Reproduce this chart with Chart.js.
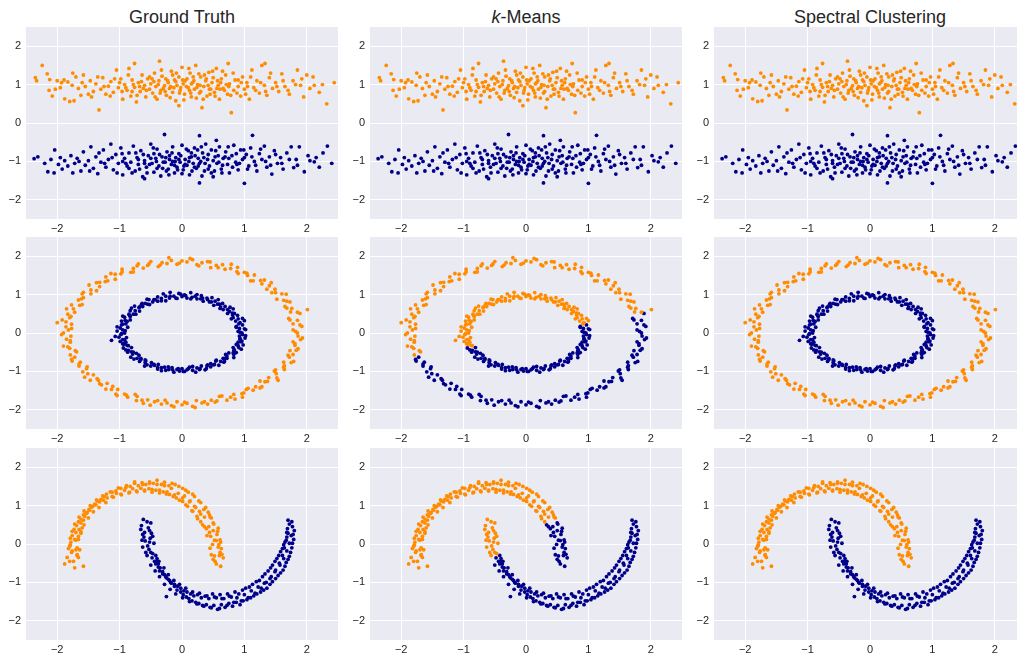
<!DOCTYPE html>
<html>
<head>
<meta charset="utf-8">
<script src="https://cdn.jsdelivr.net/npm/chart.js@4.4.1/dist/chart.umd.min.js"></script>
<style>
  html, body { margin: 0; padding: 0; background: #fff; }
  body { width: 1017px; height: 657px; overflow: hidden; position: relative; font-family: "Liberation Sans", Arial, sans-serif; }
  canvas { position: absolute; }
  .title { position: absolute; top: 8px; width: 312px; text-align: center; font-size: 18px; line-height: 18px; color: #262626; white-space: nowrap; }
</style>
</head>
<body>
<div class="title" style="left:26px">Ground Truth</div>
<div class="title" style="left:370px"><i>k</i>-Means</div>
<div class="title" style="left:714px">Spectral Clustering</div>
<canvas id="c00" width="338" height="214" style="left:0px;top:27px"></canvas>
<canvas id="c01" width="338" height="214" style="left:344px;top:27px"></canvas>
<canvas id="c02" width="338" height="214" style="left:688px;top:27px"></canvas>
<canvas id="c10" width="338" height="214" style="left:0px;top:237px"></canvas>
<canvas id="c11" width="338" height="214" style="left:344px;top:237px"></canvas>
<canvas id="c12" width="338" height="214" style="left:688px;top:237px"></canvas>
<canvas id="c20" width="338" height="214" style="left:0px;top:448px"></canvas>
<canvas id="c21" width="338" height="214" style="left:344px;top:448px"></canvas>
<canvas id="c22" width="338" height="214" style="left:688px;top:448px"></canvas>
<script>
// Tick values shared by every panel
const TICKS = [-2, -1, 0, 1, 2];
const ORANGE = '#ff8c00';
const BLUE = '#00008b';

// Row 1: two elongated blobs
const blobsOrange = [[-2.35,1.18],[-2.33,1.1],[-2.24,1.5],[-2.16,1.28],[-2.12,1.13],[-2.13,0.85],[-2.08,0.7],[-2.03,0.88],[-1.93,1.05],[-1.89,1.12],[-1.88,0.63],[-1.83,1.07],[-1.8,0.56],[-1.76,0.98],[-1.73,0.58],[-1.7,1.2],[-1.66,0.9],[-1.62,0.72],[-1.58,1.25],[-1.55,0.95],[-1.5,0.75],[-1.47,1.1],[-1.42,0.82],[-1.38,1.02],[-1.33,0.34],[-1.3,0.88],[-1.27,1.18],[-1.22,0.75],[-1.18,0.96],[-1.14,1.08],[-1.1,0.8],[-1.05,1.38],[-1.02,0.92],[-0.98,1.15],[-0.95,0.62],[-0.92,1.0],[-0.88,0.85],[-0.85,1.42],[-0.82,0.7],[-0.8,1.12],[-0.76,0.93],[-0.76,1.55],[-0.73,0.55],[-0.7,1.05],[-0.67,0.82],[-0.64,1.25],[-0.6,0.98],[-0.58,0.68],[-0.55,1.15],[-0.52,0.88],[-0.5,1.02],[-0.47,0.78],[-0.44,1.3],[-0.42,0.95],[-0.4,0.62],[-0.37,1.1],[-0.36,1.61],[-0.34,0.85],[-0.32,1.22],[-0.28,0.97],[-0.25,0.72],[-0.22,1.05],[-0.2,0.9],[-0.17,1.35],[-0.15,0.8],[-0.12,1.12],[-0.1,0.58],[-0.08,0.98],[-0.05,1.2],[-0.05,0.45],[-0.03,0.85],[0.0,1.45],[0.02,1.02],[0.04,0.75],[0.08,1.15],[0.1,0.92],[0.13,1.3],[0.15,0.68],[0.17,1.05],[0.2,0.88],[0.22,1.5],[0.25,1.0],[0.28,0.78],[0.3,1.2],[0.32,0.4],[0.35,0.95],[0.38,1.1],[0.4,0.7],[0.43,1.32],[0.46,0.88],[0.48,1.05],[0.52,0.8],[0.55,1.42],[0.58,0.98],[0.6,0.62],[0.63,1.15],[0.66,0.9],[0.7,1.25],[0.73,0.75],[0.74,1.55],[0.76,1.02],[0.79,0.27],[0.83,0.85],[0.85,1.12],[0.9,0.95],[0.94,0.7],[0.97,1.2],[1.0,0.88],[1.04,1.05],[1.08,0.62],[1.12,1.38],[1.15,0.92],[1.2,1.1],[1.24,0.78],[1.28,1.5],[1.32,0.98],[1.33,1.55],[1.36,0.72],[1.4,1.18],[1.45,0.9],[1.5,1.05],[1.55,0.82],[1.6,1.28],[1.65,0.95],[1.72,0.75],[1.78,1.1],[1.85,1.38],[1.9,0.98],[1.95,0.68],[2.0,1.25],[2.05,0.9],[2.12,0.98],[2.25,1.0],[2.32,0.5],[2.44,1.05],[-0.62,0.9],[-0.45,1.08],[-0.35,0.78],[-0.26,1.15],[-0.18,0.95],[-0.1,1.08],[-0.02,0.92],[0.05,1.1],[0.12,0.85],[0.18,1.2],[0.24,0.93],[0.3,0.82],[0.36,1.25],[0.42,0.98],[0.5,1.18],[0.56,0.9],[0.62,1.05],[0.68,0.85],[-0.52,1.2],[-0.68,0.95],[-0.8,0.82],[0.9,1.12],[1.05,0.95],[-1.0,1.05],[0.15,1.02],[-0.3,0.9],[0.45,0.75],[-0.15,1.25],[0.75,0.95],[-0.9,0.92],
  [-1.95,0.92],[-1.6,1.05],[-1.45,0.68],[-1.35,1.2],[-1.25,0.95],[-1.15,0.7],[-1.08,1.15],[-0.96,0.82],[-0.86,1.25],[-0.78,1.0],[-0.72,0.72],[-0.65,1.08],[-0.57,0.85],[-0.48,1.15],[-0.43,0.68],[-0.38,1.0],[-0.33,1.38],[-0.27,0.82],[-0.23,1.1],[-0.19,0.66],[-0.13,0.92],[-0.09,1.3],[-0.04,0.78],[0.01,1.12],[0.03,0.6],[0.07,0.95],[0.11,1.42],[0.14,0.78],[0.19,1.1],[0.23,0.65],[0.27,1.28],[0.29,0.98],[0.34,0.62],[0.39,1.15],[0.44,0.88],[0.49,1.35],[0.53,0.7],[0.57,1.1],[0.61,0.88],[0.65,1.35],[0.71,1.0],[0.78,0.72],[0.82,1.3],[0.88,0.78],[0.95,1.05],[1.02,0.75],[1.1,1.2],[1.18,0.85],[1.26,1.05],[1.34,0.82],[1.42,1.3],[1.52,0.95],[1.62,1.1],[1.7,0.85],[1.82,1.0],[1.92,1.15],[2.1,1.2],[-1.75,1.3],[-2.0,1.1],[2.2,0.8]];
const blobsBlue = [[-2.37,-0.93],[-2.31,-0.88],[-2.15,-1.27],[-2.05,-1.3],[-2.04,-0.7],[-2.1,-0.95],[-1.98,-1.08],[-1.92,-1.2],[-1.88,-0.98],[-1.83,-1.12],[-1.78,-0.85],[-1.72,-1.05],[-1.68,-0.92],[-1.62,-1.25],[-1.58,-0.75],[-1.55,-1.1],[-1.5,-0.98],[-1.46,-0.62],[-1.42,-1.18],[-1.38,-0.88],[-1.35,-1.32],[-1.3,-1.02],[-1.26,-0.7],[-1.22,-1.15],[-1.18,-0.95],[-1.14,-0.55],[-1.1,-1.22],[-1.06,-0.82],[-1.02,-1.05],[-0.98,-0.65],[-0.95,-1.35],[-0.92,-0.92],[-0.88,-1.12],[-0.85,-0.78],[-0.82,-1.02],[-0.78,-0.6],[-0.75,-1.25],[-0.72,-0.9],[-0.7,-1.08],[-0.66,-0.72],[-0.63,-1.4],[-0.6,-0.98],[-0.57,-1.15],[-0.54,-0.85],[-0.5,-0.55],[-0.48,-1.05],[-0.45,-1.28],[-0.42,-0.92],[-0.4,-0.68],[-0.37,-1.12],[-0.34,-1.38],[-0.32,-0.88],[-0.28,-0.3],[-0.27,-1.02],[-0.24,-0.75],[-0.22,-1.2],[-0.2,-0.95],[-0.17,-1.08],[-0.15,-0.62],[-0.12,-1.3],[-0.1,-0.9],[-0.08,-1.15],[-0.05,-0.8],[-0.03,-1.02],[0.0,-0.58],[0.02,-1.22],[0.05,-0.95],[0.08,-1.1],[0.1,-0.72],[0.12,-1.35],[0.15,-0.88],[0.18,-1.05],[0.2,-0.65],[0.23,-1.18],[0.26,-0.92],[0.28,-0.33],[0.28,-1.56],[0.3,-1.0],[0.33,-0.78],[0.36,-1.25],[0.38,-0.55],[0.41,-0.95],[0.44,-1.12],[0.47,-0.7],[0.5,-1.4],[0.53,-0.88],[0.56,-1.05],[0.6,-0.62],[0.63,-1.2],[0.66,-0.92],[0.7,-0.75],[0.73,-1.08],[0.76,-1.3],[0.8,-0.85],[0.83,-0.58],[0.86,-1.02],[0.9,-1.22],[0.94,-0.7],[0.97,-0.95],[1.0,-1.57],[1.03,-0.82],[1.07,-1.12],[1.1,-0.65],[1.13,-0.32],[1.16,-1.0],[1.2,-1.25],[1.24,-0.8],[1.28,-0.95],[1.32,-0.6],[1.36,-1.15],[1.4,-0.88],[1.44,-1.33],[1.48,-0.72],[1.53,-1.05],[1.58,-0.9],[1.62,-1.2],[1.68,-0.78],[1.75,-0.62],[1.79,-1.16],[1.83,-0.95],[1.88,-0.62],[1.96,-1.27],[2.02,-0.85],[2.12,-1.01],[2.15,-0.9],[2.26,-0.78],[2.33,-0.6],[2.4,-1.05],[-0.6,-1.05],[-0.5,-0.92],[-0.4,-1.18],[-0.3,-1.02],[-0.2,-0.85],[-0.12,-1.1],[-0.05,-0.95],[0.05,-1.08],[0.12,-0.9],[0.2,-1.15],[0.28,-1.05],[0.35,-0.9],[0.42,-1.2],[0.5,-0.98],[0.58,-0.85],[0.65,-1.1],[-0.7,-0.95],[-0.85,-1.18],[0.75,-0.92],[0.88,-1.08],[-0.25,-1.25],[0.0,-1.32],[0.32,-1.38],[-0.45,-0.8],[0.15,-0.78],[-0.95,-1.0],[1.0,-0.9],[0.52,-1.25],[-0.15,-1.0],[0.25,-0.7],
  [-1.95,-0.9],[-1.65,-1.0],[-1.48,-1.25],[-1.33,-0.78],[-1.24,-1.05],[-1.12,-0.9],[-1.04,-1.3],[-0.96,-0.8],[-0.9,-1.05],[-0.8,-1.3],[-0.74,-0.78],[-0.68,-1.2],[-0.62,-0.82],[-0.56,-1.3],[-0.52,-1.08],[-0.46,-0.65],[-0.41,-1.0],[-0.36,-0.82],[-0.31,-1.18],[-0.26,-0.9],[-0.21,-1.35],[-0.16,-0.78],[-0.11,-1.0],[-0.07,-1.22],[-0.02,-0.85],[0.03,-1.12],[0.07,-0.68],[0.11,-1.0],[0.16,-1.25],[0.21,-0.85],[0.26,-1.12],[0.31,-0.62],[0.37,-1.05],[0.42,-0.82],[0.47,-1.3],[0.54,-0.72],[0.59,-1.02],[0.64,-1.3],[0.69,-0.88],[0.74,-0.62],[0.81,-1.15],[0.87,-0.8],[0.92,-1.05],[0.99,-0.7],[1.05,-1.2],[1.12,-0.88],[1.18,-1.1],[1.26,-0.68],[1.34,-1.0],[1.42,-1.1],[1.5,-0.82],[1.6,-1.05],[1.72,-0.95],[1.85,-1.1],[2.05,-0.98],[2.2,-1.15],[-1.75,-1.3],[-2.2,-1.05],[0.55,-0.45],[-0.6,-1.45]];

// Row 2: concentric circles, each ring split where k-means cuts it
const outerUpper = [[1.74,0.55],[1.76,0.64],[1.65,0.69],[1.73,0.81],[1.63,0.85],[1.52,0.88],[1.6,1.02],[1.5,1.05],[1.49,1.14],[1.36,1.14],[1.43,1.31],[1.28,1.28],[1.26,1.37],[1.14,1.36],[1.16,1.51],[1.05,1.5],[1.0,1.58],[0.9,1.55],[0.89,1.71],[0.78,1.68],[0.69,1.66],[0.65,1.78],[0.55,1.76],[0.46,1.7],[0.41,1.86],[0.32,1.83],[0.24,1.78],[0.17,1.91],[0.08,1.85],[0,1.88],[-0.08,1.79],[-0.17,1.89],[-0.24,1.81],[-0.32,1.83],[-0.38,1.73],[-0.5,1.86],[-0.55,1.76],[-0.62,1.69],[-0.72,1.75],[-0.78,1.68],[-0.82,1.58],[-0.96,1.66],[-0.98,1.54],[-1.07,1.53],[-1.07,1.4],[-1.22,1.46],[-1.23,1.34],[-1.32,1.32],[-1.32,1.21],[-1.49,1.25],[-1.46,1.12],[-1.46,1.02],[-1.6,1.02],[-1.58,0.92],[-1.66,0.86],[-1.6,0.74],[-1.77,0.73],[-1.74,0.63],[-1.72,0.54],[-1.83,0.49],[-1.8,0.4],[-1.92,0.34],[-1.77,0.23],[-1.86,0.16],[-1.82,0.08],[-1.9,0],[-1.78,-0.08],[-1.85,-0.16],[-1.79,-0.24],[-1.9,-0.34],[-1.8,-0.4],[-1.71,-0.46],[-1.79,-0.57],[2.01,0.61],[-2.0,0.27],
  [1.85,0.54],[1.68,0.65],[1.68,0.83],[1.67,1.01],[1.44,1.05],[1.4,1.23],[1.32,1.38],[1.1,1.36],[1.04,1.56],[0.88,1.6],[0.79,1.79],[0.58,1.7],[0.45,1.85],[0.27,1.75],[0.13,1.94],[-0.04,1.82],[-0.21,1.96],[-0.35,1.77],[-0.53,1.8],[-0.7,1.8],[-0.78,1.59],[-0.96,1.59],[-1.14,1.55],[-1.19,1.36],[-1.37,1.31],[-1.37,1.1],[-1.58,1.06],[-1.61,0.89],[-1.64,0.72],[-1.85,0.63],[-1.78,0.43],[-1.86,0.29],[-1.77,0.12],[-1.93,-0.04],[-1.79,-0.2],[-1.83,-0.36],[-1.69,-0.49]];
const outerLower = [[-1.72,-0.63],[-1.76,-0.73],[-1.63,-0.76],[-1.65,-0.86],[-1.52,-0.88],[-1.59,-1.01],[-1.51,-1.06],[-1.42,-1.09],[-1.47,-1.23],[-1.34,-1.23],[-1.32,-1.32],[-1.2,-1.31],[-1.22,-1.46],[-1.13,-1.47],[-1.03,-1.47],[-1.04,-1.63],[-0.92,-1.59],[-0.87,-1.67],[-0.75,-1.6],[-0.73,-1.76],[-0.64,-1.75],[-0.55,-1.74],[-0.51,-1.88],[-0.39,-1.76],[-0.33,-1.85],[-0.24,-1.82],[-0.17,-1.89],[-0.08,-1.79],[0,-1.87],[0.08,-1.83],[0.17,-1.91],[0.23,-1.76],[0.32,-1.82],[0.41,-1.85],[0.47,-1.75],[0.56,-1.77],[0.6,-1.65],[0.72,-1.75],[0.78,-1.67],[0.83,-1.6],[0.97,-1.67],[0.99,-1.56],[1.03,-1.47],[1.14,-1.49],[1.18,-1.4],[1.28,-1.4],[1.25,-1.25],[1.37,-1.26],[1.39,-1.16],[1.52,-1.17],[1.51,-1.06],[1.5,-0.96],[1.64,-0.95],[1.64,-0.85],[1.63,-0.76],[1.79,-0.74],[1.72,-0.63],[1.78,-0.56],[1.73,-0.46],[1.86,-0.41],[1.81,-0.32],[1.78,-0.23],[1.9,-0.17],[1.86,-0.08],[1.85,0],[1.78,0.08],[1.92,0.17],[1.78,0.24],[1.85,0.33],[1.71,0.38],[1.89,0.51],
  [1.82,0.04],[1.89,0.21],[1.73,0.34],[-1.77,-0.69],[-1.65,-0.81],[-1.53,-0.93],[-1.56,-1.15],[-1.36,-1.19],[-1.29,-1.35],[-1.11,-1.39],[-1.06,-1.59],[-0.89,-1.62],[-0.72,-1.65],[-0.62,-1.83],[-0.44,-1.79],[-0.27,-1.75],[-0.13,-1.92],[0.04,-1.8],[0.21,-1.94],[0.36,-1.79],[0.53,-1.8],[0.64,-1.64],[0.85,-1.72],[0.96,-1.58],[1.06,-1.44],[1.25,-1.43],[1.33,-1.27],[1.54,-1.23],[1.48,-0.99],[1.63,-0.89],[1.75,-0.77],[1.7,-0.58],[1.83,-0.45],[1.81,-0.28],[1.93,-0.13]];
const innerUpper = [[0.91,0.24],[1.0,0.32],[0.86,0.31],[0.9,0.37],[0.79,0.37],[0.89,0.46],[0.81,0.47],[0.81,0.52],[0.73,0.51],[0.82,0.63],[0.73,0.61],[0.66,0.61],[0.69,0.69],[0.62,0.68],[0.65,0.77],[0.57,0.75],[0.51,0.72],[0.53,0.83],[0.47,0.81],[0.48,0.92],[0.41,0.87],[0.34,0.83],[0.33,0.91],[0.31,0.97],[0.24,0.89],[0.21,0.96],[0.16,0.93],[0.14,1.05],[0.08,0.91],[0.04,0.99],[0,0.95],[-0.05,1.03],[-0.08,0.9],[-0.13,0.96],[-0.19,1.06],[-0.2,0.91],[-0.26,0.96],[-0.26,0.84],[-0.33,0.9],[-0.39,0.94],[-0.39,0.83],[-0.45,0.87],[-0.47,0.81],[-0.56,0.88],[-0.52,0.74],[-0.59,0.77],[-0.64,0.77],[-0.63,0.69],[-0.68,0.68],[-0.76,0.7],[-0.68,0.57],[-0.75,0.58],[-0.83,0.58],[-0.78,0.49],[-0.85,0.49],[-0.83,0.43],[-0.95,0.44],[-0.83,0.34],[-0.91,0.33],[-0.97,0.31],[-0.9,0.24],[-0.97,0.21],[-0.87,0.15],[-0.99,0.13],[-0.95,0.08],[-1.04,0.05],[-0.92,0],[-0.98,-0.04],[-1.07,-0.09],[-0.89,-0.12],[-0.95,-0.17],[-0.99,-0.22],[-0.9,-0.24],[-0.93,-0.29],[-0.88,-0.32],[-1.13,-0.19],
  [0.93,0.27],[0.97,0.38],[0.82,0.4],[0.84,0.51],[0.76,0.56],[0.77,0.67],[0.61,0.64],[0.6,0.75],[0.58,0.87],[0.44,0.81],[0.4,0.91],[0.3,0.89],[0.24,1.0],[0.14,0.89],[0.06,0.97],[-0.02,1.01],[-0.1,0.91],[-0.19,0.96],[-0.3,1.02],[-0.33,0.84],[-0.43,0.87],[-0.53,0.87],[-0.55,0.75],[-0.65,0.74],[-0.69,0.66],[-0.81,0.65],[-0.74,0.49],[-0.84,0.46],[-0.92,0.41],[-0.88,0.3],[-0.95,0.23],[-1.04,0.16],[-0.91,0.06],[-0.97,-0.02],[-1.01,-0.11],[-0.92,-0.18],[-0.95,-0.28],[-0.86,-0.33]];
const innerLower = [[-0.94,-0.39],[-0.81,-0.38],[-0.86,-0.45],[-0.87,-0.5],[-0.78,-0.5],[-0.79,-0.55],[-0.82,-0.63],[-0.69,-0.58],[-0.72,-0.66],[-0.66,-0.66],[-0.68,-0.74],[-0.59,-0.7],[-0.59,-0.77],[-0.6,-0.86],[-0.49,-0.77],[-0.5,-0.86],[-0.44,-0.84],[-0.38,-0.82],[-0.39,-0.94],[-0.33,-0.9],[-0.28,-0.89],[-0.26,-0.97],[-0.21,-0.95],[-0.16,-0.9],[-0.13,-1.02],[-0.08,-0.95],[-0.04,-0.99],[0,-0.93],[0.04,-1.0],[0.08,-0.96],[0.12,-0.89],[0.17,-0.97],[0.22,-1.02],[0.24,-0.91],[0.29,-0.93],[0.31,-0.86],[0.39,-0.93],[0.4,-0.86],[0.46,-0.88],[0.46,-0.8],[0.52,-0.82],[0.59,-0.84],[0.55,-0.71],[0.62,-0.74],[0.68,-0.74],[0.66,-0.66],[0.72,-0.66],[0.72,-0.6],[0.83,-0.64],[0.75,-0.52],[0.82,-0.52],[0.87,-0.51],[0.84,-0.44],[0.82,-0.38],[0.91,-0.38],[0.9,-0.33],[0.98,-0.31],[0.9,-0.24],[0.96,-0.21],[0.93,-0.16],[1.01,-0.13],[0.92,-0.08],[0.97,-0.04],[0.96,0],[0.9,0.04],[1.02,0.09],[0.92,0.12],[0.87,0.15],[0.97,0.21],
  [0.93,0.02],[1.0,0.11],[0.87,0.17],[-0.9,-0.44],[-0.81,-0.49],[-0.73,-0.53],[-0.77,-0.68],[-0.66,-0.69],[-0.58,-0.72],[-0.56,-0.83],[-0.45,-0.82],[-0.39,-0.9],[-0.33,-0.98],[-0.22,-0.88],[-0.15,-0.96],[-0.06,-0.93],[0.02,-1.0],[0.1,-0.93],[0.17,-0.87],[0.28,-0.95],[0.37,-0.96],[0.41,-0.83],[0.5,-0.83],[0.54,-0.73],[0.67,-0.76],[0.69,-0.66],[0.7,-0.56],[0.83,-0.56],[0.83,-0.46],[0.95,-0.42],[0.87,-0.3],[0.95,-0.23],[0.93,-0.14],[1.02,-0.07]];

// Row 3: two moons, each moon split where k-means cuts it
const moonUpperMain = [[0.47,0.68],[0.44,0.76],[0.3,0.58],[0.42,0.83],[0.25,0.66],[0.38,0.95],[0.24,0.72],[0.35,0.9],[0.17,0.85],[0.3,1.08],[0.16,0.87],[0.27,1.12],[0.09,0.98],[0.2,1.24],[0.06,1.02],[0.17,1.3],[0.01,1.11],[0.1,1.35],[-0.04,1.14],[0.06,1.4],[-0.09,1.2],[0.01,1.45],[-0.14,1.24],[-0.05,1.5],[-0.2,1.29],[-0.11,1.55],[-0.25,1.3],[-0.16,1.58],[-0.3,1.36],[-0.21,1.52],[-0.36,1.33],[-0.28,1.61],[-0.42,1.4],[-0.33,1.55],[-0.48,1.35],[-0.4,1.66],[-0.53,1.44],[-0.46,1.58],[-0.6,1.38],[-0.52,1.62],[-0.66,1.45],[-0.58,1.55],[-0.72,1.36],[-0.64,1.6],[-0.79,1.44],[-0.7,1.52],[-0.85,1.33],[-0.76,1.58],[-0.92,1.4],[-0.83,1.5],[-0.97,1.28],[-0.9,1.47],[-1.05,1.32],[-0.98,1.45],[-1.12,1.24],[-1.06,1.38],[-1.2,1.2],[-1.12,1.35],[-1.26,1.14],[-1.21,1.3],[-1.32,1.1],[-1.25,1.24],[-1.38,1.02],[-1.3,1.16],[-1.43,0.98],[-1.36,1.12],[-1.48,0.88],[-1.4,1.04],[-1.52,0.82],[-1.45,0.96],[-1.58,0.76],[-1.49,0.9],[-1.62,0.65],[-1.53,0.8],[-1.66,0.58],[-1.56,0.72],[-1.69,0.48],[-1.58,0.62],[-1.73,0.38],[-1.62,0.55],[-1.7,0.3],[-1.6,0.42],[-1.76,0.22],[-1.65,0.38],[-1.72,0.12],[-1.62,0.28],[-1.78,0.05],[-1.66,0.2],[-1.8,-0.06],[-1.7,0.1],[-1.64,-0.15],[-1.79,-0.02],[-1.68,-0.28],[-1.82,-0.12],[-1.66,-0.35],[-1.76,-0.18],[-1.8,-0.45],[-1.68,-0.3],[-1.72,-0.62],[-1.88,-0.52],[-1.58,-0.58],
  [0.45,0.7],[0.3,0.78],[0.36,0.7],[0.22,0.95],[0.28,0.85],[0.13,1.12],[0.2,0.98],[0.04,1.25],[0.12,1.1],[-0.06,1.32],[0.01,1.2],[-0.17,1.45],[-0.12,1.28],[-0.28,1.52],[-0.24,1.36],[-0.4,1.55],[-0.36,1.4],[-0.52,1.58],[-0.48,1.42],[-0.63,1.55],[-0.6,1.4],[-0.76,1.62],[-0.73,1.38],[-0.89,1.52],[-0.84,1.35],[-1.02,1.46],[-0.98,1.3],[-1.15,1.36],[-1.1,1.22],[-1.27,1.25],[-1.22,1.08],[-1.37,1.15],[-1.33,0.95],[-1.47,1.0],[-1.42,0.84],[-1.57,0.86],[-1.5,0.68],[-1.65,0.7],[-1.57,0.5],[-1.72,0.52],[-1.62,0.32],[-1.76,0.33],[-1.66,0.12],[-1.79,0.15],[-1.68,-0.1],[-1.77,-0.22],[-1.7,-0.15],[-1.84,-0.35],[-1.74,-0.45]];
const moonUpperTip = [[0.62,-0.58],[0.52,-0.31],[0.66,-0.36],[0.55,-0.52],[0.63,-0.12],[0.47,-0.28],[0.59,-0.02],[0.64,-0.27],[0.49,-0.01],[0.61,0.11],[0.45,-0.11],[0.56,0.25],[0.62,0.05],[0.44,0.3],[0.55,0.09],[0.58,0.41],[0.4,0.22],[0.51,0.52],[0.39,0.4],[0.5,0.35],[0.33,0.5],
  [0.53,-0.45],[0.61,-0.22],[0.5,-0.4],[0.6,-0.3],[0.52,0.1],[0.58,-0.08],[0.46,0.2],[0.57,0.33],[0.43,0.45],[0.5,0.55],[0.36,0.45]];
const moonLowerTip = [[-0.62,0.64],[-0.52,0.35],[-0.65,0.48],[-0.5,0.55],[-0.61,0.18],[-0.66,0.38],[-0.52,0.05],[-0.6,0.3],[-0.47,0.2],[-0.63,-0.08],[-0.51,0.15],[-0.58,-0.22],[-0.45,0.02],[-0.55,-0.05],[-0.53,-0.14],[-0.5,-0.22],
  [-0.56,0.58],[-0.63,0.25],[-0.54,0.42],[-0.64,0.1],[-0.49,0.28],[-0.59,0.08],[-0.47,-0.25],[-0.56,-0.3]];
const moonLowerMain = [[-0.42,-0.3],[-0.4,-0.38],[-0.38,-0.52],[-0.48,-0.36],[-0.35,-0.62],[-0.44,-0.45],[-0.31,-0.72],[-0.42,-0.52],[-0.28,-0.8],[-0.38,-0.6],[-0.25,-0.88],[-0.36,-0.7],[-0.2,-0.95],[-0.31,-0.78],[-0.17,-1.02],[-0.26,-0.85],[-0.12,-1.1],[-0.22,-0.92],[-0.08,-1.2],[-0.18,-1.0],[-0.02,-1.25],[-0.12,-1.05],[0.02,-1.32],[-0.07,-1.1],[0.07,-1.38],[-0.02,-1.15],[0.11,-1.42],[0.03,-1.22],[0.16,-1.48],[0.08,-1.25],[0.22,-1.52],[0.14,-1.3],[0.27,-1.55],[0.19,-1.35],[0.33,-1.6],[0.25,-1.32],[0.39,-1.58],[0.31,-1.4],[0.45,-1.65],[0.37,-1.36],[0.51,-1.6],[0.43,-1.42],[0.57,-1.7],[0.49,-1.3],[0.63,-1.58],[0.55,-1.4],[0.69,-1.65],[0.61,-1.32],[0.75,-1.55],[0.67,-1.42],[0.81,-1.62],[0.73,-1.3],[0.87,-1.52],[0.79,-1.38],[0.93,-1.58],[0.85,-1.25],[0.98,-1.48],[0.91,-1.3],[1.04,-1.45],[0.97,-1.2],[1.1,-1.4],[1.02,-1.15],[1.15,-1.35],[1.08,-1.12],[1.2,-1.3],[1.13,-1.05],[1.26,-1.25],[1.19,-0.98],[1.31,-1.2],[1.24,-0.95],[1.36,-1.15],[1.29,-0.85],[1.41,-1.05],[1.33,-0.78],[1.45,-0.98],[1.38,-0.7],[1.5,-0.9],[1.42,-0.62],[1.54,-0.82],[1.45,-0.55],[1.58,-0.75],[1.49,-0.45],[1.62,-0.68],[1.52,-0.38],[1.65,-0.58],[1.55,-0.3],[1.67,-0.48],[1.58,-0.2],[1.7,-0.4],[1.61,-0.12],[1.72,-0.32],[1.63,-0.02],[1.74,-0.22],[1.65,0.05],[1.76,-0.1],[1.68,0.18],[1.77,0.02],[1.7,0.28],[1.79,0.12],[1.69,0.4],[1.78,0.25],[1.72,0.52],[1.8,0.35],[1.7,0.62],[1.76,0.58],[-0.25,-1.37],
  [-0.41,-0.45],[-0.5,-0.55],[-0.37,-0.45],[-0.43,-0.7],[-0.29,-0.62],[-0.36,-0.85],[-0.22,-0.8],[-0.28,-1.05],[-0.13,-0.95],[-0.19,-1.18],[-0.04,-1.05],[-0.1,-1.3],[0.06,-1.15],[0.01,-1.4],[0.17,-1.25],[0.12,-1.5],[0.28,-1.28],[0.24,-1.56],[0.4,-1.35],[0.35,-1.62],[0.52,-1.38],[0.47,-1.66],[0.64,-1.42],[0.6,-1.68],[0.76,-1.36],[0.72,-1.6],[0.88,-1.4],[0.83,-1.52],[1.0,-1.32],[0.95,-1.48],[1.11,-1.22],[1.06,-1.4],[1.22,-1.12],[1.17,-1.28],[1.32,-1.02],[1.27,-1.15],[1.41,-0.9],[1.35,-1.0],[1.49,-0.72],[1.43,-0.85],[1.57,-0.55],[1.5,-0.68],[1.63,-0.38],[1.56,-0.5],[1.68,-0.18],[1.61,-0.3],[1.72,0.02],[1.64,-0.1],[1.75,0.22],[1.67,0.1],[1.77,0.45],[1.68,0.3]];

const toXY = pts => pts.map(p => ({ x: p[0], y: p[1] }));

// Background fill for the plot area (seaborn darkgrid look)
const bgPlugin = {
  id: 'bg',
  beforeDraw(chart) {
    const { ctx, chartArea: a } = chart;
    ctx.save();
    ctx.fillStyle = '#eaeaf2';
    ctx.fillRect(a.left, a.top, a.right - a.left, a.bottom - a.top);
    ctx.restore();
  }
};

const fmt = v => (v < 0 ? '\u2212' + Math.abs(v) : String(v));

const axis = (fit, pad) => ({
  type: 'linear',
  min: -2.5,
  max: 2.5,
  afterBuildTicks: s => { s.ticks = TICKS.map(v => ({ value: v })); },
  afterFit: s => {
    fit(s);
    // ticks never sit on the plot edges, so no label overhang is needed
    s.paddingTop = 0; s.paddingBottom = 0; s.paddingLeft = 0; s.paddingRight = 0;
  },
  grid: { color: '#ffffff', lineWidth: 1, drawTicks: false },
  border: { display: false },
  ticks: {
    autoSkip: false,
    padding: pad,
    color: '#262626',
    font: { family: '"Liberation Sans", Arial, sans-serif', size: 11 },
    callback: fmt
  }
});

const makePanel = (id, orangePts, bluePts) => {
  new Chart(document.getElementById(id), {
    type: 'scatter',
    data: {
      datasets: [
        { data: toXY(orangePts), backgroundColor: ORANGE, borderWidth: 0, pointRadius: 1.9 },
        { data: toXY(bluePts), backgroundColor: BLUE, borderWidth: 0, pointRadius: 1.9 }
      ]
    },
    options: {
      responsive: false,
      animation: false,
      devicePixelRatio: 1,
      events: [],
      layout: { padding: 0, autoPadding: false },
      plugins: { legend: { display: false }, tooltip: { enabled: false } },
      scales: {
        x: axis(s => { s.height = 22; }, 3),
        y: axis(s => { s.width = 26; }, 5)
      }
    },
    plugins: [bgPlugin]
  });
};

// Ground truth / k-means / spectral clustering
makePanel('c00', blobsOrange, blobsBlue);
makePanel('c01', blobsOrange, blobsBlue);
makePanel('c02', blobsOrange, blobsBlue);

makePanel('c10', outerUpper.concat(outerLower), innerUpper.concat(innerLower));
makePanel('c11', outerUpper.concat(innerUpper), outerLower.concat(innerLower));
makePanel('c12', outerUpper.concat(outerLower), innerUpper.concat(innerLower));

makePanel('c20', moonUpperMain.concat(moonUpperTip), moonLowerTip.concat(moonLowerMain));
makePanel('c21', moonUpperMain.concat(moonLowerTip), moonUpperTip.concat(moonLowerMain));
makePanel('c22', moonUpperMain.concat(moonUpperTip), moonLowerTip.concat(moonLowerMain));
</script>
</body>
</html>
